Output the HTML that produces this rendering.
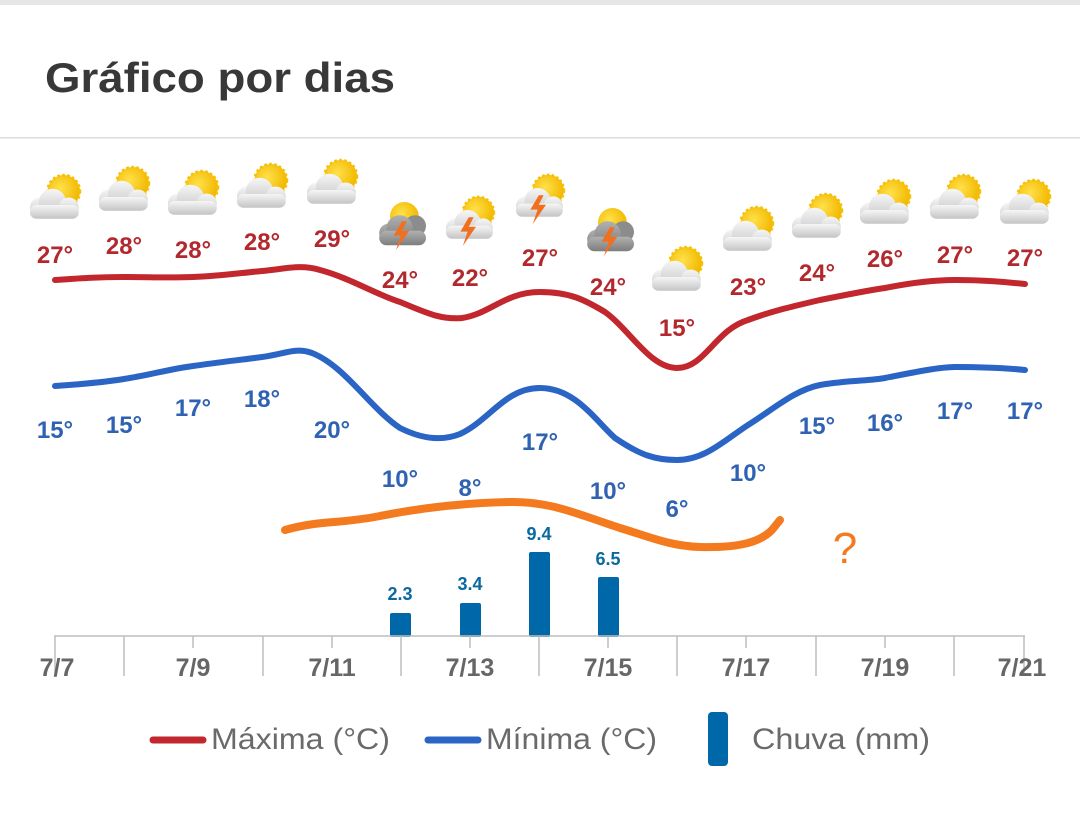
<!DOCTYPE html>
<html><head><meta charset="utf-8"><style>
html,body{margin:0;padding:0;background:#fff;}
body{width:1080px;height:821px;overflow:hidden;font-family:"Liberation Sans",sans-serif;}
</style></head><body>
<svg width="1080" height="821" viewBox="0 0 1080 821" xmlns="http://www.w3.org/2000/svg" font-family="Liberation Sans, sans-serif">
<defs>
<radialGradient id="sun" cx="0.4" cy="0.4" r="0.6"><stop offset="0" stop-color="#ffe14a"/><stop offset="1" stop-color="#f2b800"/></radialGradient>
<linearGradient id="cl" x1="0" y1="0" x2="0" y2="1"><stop offset="0" stop-color="#f6f6f6"/><stop offset="1" stop-color="#c4c4c4"/></linearGradient>
<linearGradient id="cd" x1="0" y1="0" x2="0" y2="1"><stop offset="0" stop-color="#b0b0b0"/><stop offset="1" stop-color="#7d7d7d"/></linearGradient>
<g id="ps0">
<circle cx="7" cy="-7" r="13" fill="url(#sun)" stroke="#f5c000" stroke-width="2" stroke-dasharray="2 2"/>
<circle cx="-12" cy="6" r="8" fill="url(#cl)"/>
<circle cx="-2" cy="2" r="11" fill="url(#cl)"/>
<circle cx="11" cy="6" r="8" fill="url(#cl)"/>
<rect x="-20" y="4" width="39" height="11" rx="5" fill="url(#cl)"/>
</g>
<g id="sd0">
<circle cx="2" cy="-8" r="12" fill="url(#sun)"/>
<circle cx="11" cy="0" r="9" fill="#8c8c8c"/>
<circle cx="-11" cy="6" r="8" fill="url(#cd)"/>
<circle cx="-2" cy="2" r="11" fill="url(#cd)"/>
<rect x="-19" y="4" width="39" height="12" rx="6" fill="url(#cd)"/>
<path d="M0,-4 L-7,8 L-1,8 L-5,20 L6,4 L0,4 L4,-4Z" fill="#f07020"/>
</g>
<g id="sl0">
<circle cx="7" cy="-8" r="13" fill="url(#sun)" stroke="#f5c000" stroke-width="2" stroke-dasharray="2 2"/>
<circle cx="-12" cy="5" r="8" fill="url(#cl)"/>
<circle cx="-2" cy="1" r="11" fill="url(#cl)"/>
<circle cx="11" cy="5" r="8" fill="url(#cl)"/>
<rect x="-20" y="3" width="39" height="11" rx="5" fill="url(#cl)"/>
<path d="M-1,-4 L-8,8 L-2,8 L-6,20 L5,4 L-1,4 L3,-4Z" fill="#f07020"/>
</g>
<g id="ps" transform="scale(1.25)"><use href="#ps0"/></g>
<g id="sd" transform="scale(1.2)"><use href="#sd0"/></g>
<g id="sl" transform="scale(1.2)"><use href="#sl0"/></g>
</defs>
<rect x="0" y="0" width="1080" height="5" fill="#e6e6e6"/>
<text x="45" y="92" font-size="42" font-weight="bold" fill="#383838" textLength="350" lengthAdjust="spacingAndGlyphs">Gráfico por dias</text>
<rect x="0" y="137" width="1080" height="1.5" fill="#dcdcdc"/>

<use href="#ps" x="55" y="200"/>
<use href="#ps" x="124" y="192"/>
<use href="#ps" x="193" y="196"/>
<use href="#ps" x="262" y="189"/>
<use href="#ps" x="332" y="185"/>
<use href="#sd" x="402" y="226"/>
<use href="#sl" x="470" y="222"/>
<use href="#sl" x="540" y="200"/>
<use href="#sd" x="610" y="232"/>
<use href="#ps" x="677" y="272"/>
<use href="#ps" x="748" y="232"/>
<use href="#ps" x="817" y="219"/>
<use href="#ps" x="885" y="205"/>
<use href="#ps" x="955" y="200"/>
<use href="#ps" x="1025" y="205"/>

<path d="M55,280 C85,278 100,277 124,277 C150,277 170,278 193,277 C220,276 240,273 262,271 C285,269 300,264 320,270 C350,278 375,294 400,302 C425,312 440,320 462,318 C490,314 505,292 540,292 C570,292 585,300 605,312 C630,330 650,368 677,368 C705,368 715,330 748,320 C775,310 795,306 820,300 C850,294 870,290 885,288 C915,282 940,280 955,280 C985,280 1005,282 1025,284" fill="none" stroke="#c1272d" stroke-width="6" stroke-linecap="round"/>
<path d="M55,386 C85,384 105,382 124,379 C150,375 170,369 193,366 C220,362 240,360 262,357 C285,354 295,347 312,353 C345,366 370,408 400,428 C420,438 440,442 460,434 C490,420 505,388 540,388 C575,388 595,420 615,438 C640,455 655,460 677,460 C705,460 725,440 748,425 C775,408 795,390 820,385 C850,380 870,381 885,378 C915,372 940,367 955,367 C985,367 1005,368 1025,370" fill="none" stroke="#2a64c5" stroke-width="6" stroke-linecap="round"/>
<path d="M285,530 C320,520 340,524 380,516 C420,508 460,503 510,502 C550,501 580,515 620,528 C650,537 670,546 700,547 C740,548 760,542 772,530 L780,520" fill="none" stroke="#f47a20" stroke-width="8" stroke-linecap="round"/>
<text x="845" y="563" font-size="44" fill="#f47a20" text-anchor="middle">?</text>

<g font-size="24" font-weight="bold" fill="#b3282d" text-anchor="middle">
<text x="55" y="263">27°</text><text x="124" y="254">28°</text><text x="193" y="258">28°</text><text x="262" y="250">28°</text><text x="332" y="247">29°</text><text x="400" y="288">24°</text><text x="470" y="286">22°</text><text x="540" y="266">27°</text><text x="608" y="295">24°</text><text x="677" y="336">15°</text><text x="748" y="295">23°</text><text x="817" y="281">24°</text><text x="885" y="267">26°</text><text x="955" y="263">27°</text><text x="1025" y="266">27°</text>
</g>
<g font-size="24" font-weight="bold" fill="#2f62b2" text-anchor="middle">
<text x="55" y="438">15°</text><text x="124" y="433">15°</text><text x="193" y="416">17°</text><text x="262" y="407">18°</text><text x="332" y="438">20°</text><text x="400" y="487">10°</text><text x="470" y="496">8°</text><text x="540" y="450">17°</text><text x="608" y="499">10°</text><text x="677" y="517">6°</text><text x="748" y="481">10°</text><text x="817" y="434">15°</text><text x="885" y="431">16°</text><text x="955" y="419">17°</text><text x="1025" y="419">17°</text>
</g>

<g fill="#0068a8">
<rect x="390" y="613" width="21" height="24" rx="2"/>
<rect x="460" y="603" width="21" height="34" rx="2"/>
<rect x="529" y="552" width="21" height="85" rx="2"/>
<rect x="598" y="577" width="21" height="60" rx="2"/>
</g>
<g font-size="18" font-weight="bold" fill="#0a6aa0" text-anchor="middle">
<text x="400" y="600">2.3</text><text x="470" y="590">3.4</text><text x="539" y="540">9.4</text><text x="608" y="565">6.5</text>
</g>

<g stroke="#bdbdbd" stroke-width="1.5">
<line x1="54" y1="636" x2="1025" y2="636"/>
<line x1="55" y1="636" x2="55" y2="676"/>
<line x1="124" y1="636" x2="124" y2="676"/><line x1="193" y1="636" x2="193" y2="648"/>
<line x1="263" y1="636" x2="263" y2="676"/><line x1="332" y1="636" x2="332" y2="648"/>
<line x1="401" y1="636" x2="401" y2="676"/><line x1="470" y1="636" x2="470" y2="648"/>
<line x1="539" y1="636" x2="539" y2="676"/><line x1="608" y1="636" x2="608" y2="648"/>
<line x1="677" y1="636" x2="677" y2="676"/><line x1="746" y1="636" x2="746" y2="648"/>
<line x1="816" y1="636" x2="816" y2="676"/><line x1="885" y1="636" x2="885" y2="648"/>
<line x1="954" y1="636" x2="954" y2="676"/><line x1="1024" y1="636" x2="1024" y2="676"/>
</g>
<g font-size="25" font-weight="bold" fill="#666" text-anchor="middle">
<text x="57" y="676">7/7</text><text x="193" y="676">7/9</text><text x="332" y="676">7/11</text><text x="470" y="676">7/13</text><text x="608" y="676">7/15</text><text x="746" y="676">7/17</text><text x="885" y="676">7/19</text><text x="1022" y="676">7/21</text>
</g>

<line x1="153" y1="740" x2="203" y2="740" stroke="#c1272d" stroke-width="7" stroke-linecap="round"/>
<line x1="428" y1="740" x2="478" y2="740" stroke="#2a64c5" stroke-width="7" stroke-linecap="round"/>
<rect x="708" y="712" width="20" height="54" rx="4" fill="#0068a8"/>
<g font-size="30" fill="#6a6a6a">
<text x="211" y="749" textLength="179" lengthAdjust="spacingAndGlyphs">Máxima (°C)</text><text x="486" y="749" textLength="171" lengthAdjust="spacingAndGlyphs">Mínima (°C)</text><text x="752" y="749" textLength="178" lengthAdjust="spacingAndGlyphs">Chuva (mm)</text>
</g>
</svg>
</body></html>
